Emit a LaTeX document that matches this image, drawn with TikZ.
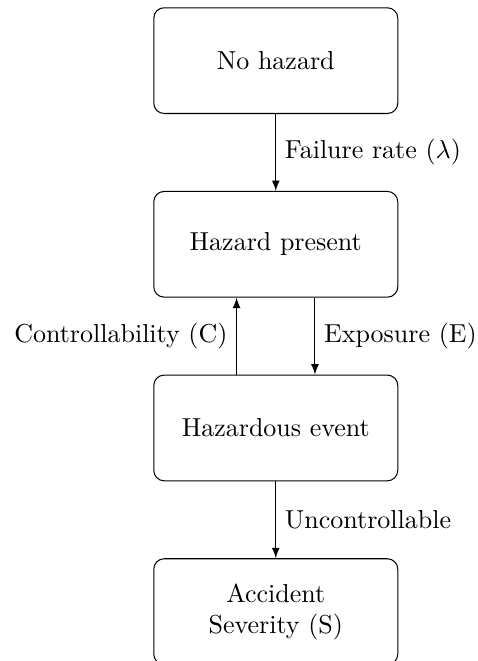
\documentclass[tikz,border=0pt]{standalone}
\usepackage{amsmath,amssymb}
\usepackage{tikz}
\usetikzlibrary{positioning,arrows.meta}

\begin{document}
\begin{tikzpicture}[
  statebox/.style={draw,rounded corners=4pt,minimum width=3.3cm,minimum height=1.43cm,align=center},
  trans/.style={-latex},
  node distance=1.04cm]
\useasboundingbox (-3.73,-8.12) rectangle (2.73,0.82);
\node[statebox] (nohaz) at (0,0) {No hazard};
\node[statebox,below=of nohaz] (hazpres) {Hazard present};
\node[statebox,below=of hazpres] (hazev) {Hazardous event};
\node[statebox,below=of hazev] (acc) {Accident\\Severity (S)};
\draw[trans] (nohaz) -- node[right] {Failure rate ($\lambda$)} (hazpres);
\draw[trans] ([xshift=-0.53cm]hazev.north) -- node[left] {Controllability (C)} ([xshift=-0.53cm]hazpres.south);
\draw[trans] ([xshift=0.53cm]hazpres.south) -- node[right] {Exposure (E)} ([xshift=0.53cm]hazev.north);
\draw[trans] (hazev) -- node[right] {Uncontrollable} (acc);
\end{tikzpicture}
\end{document}
